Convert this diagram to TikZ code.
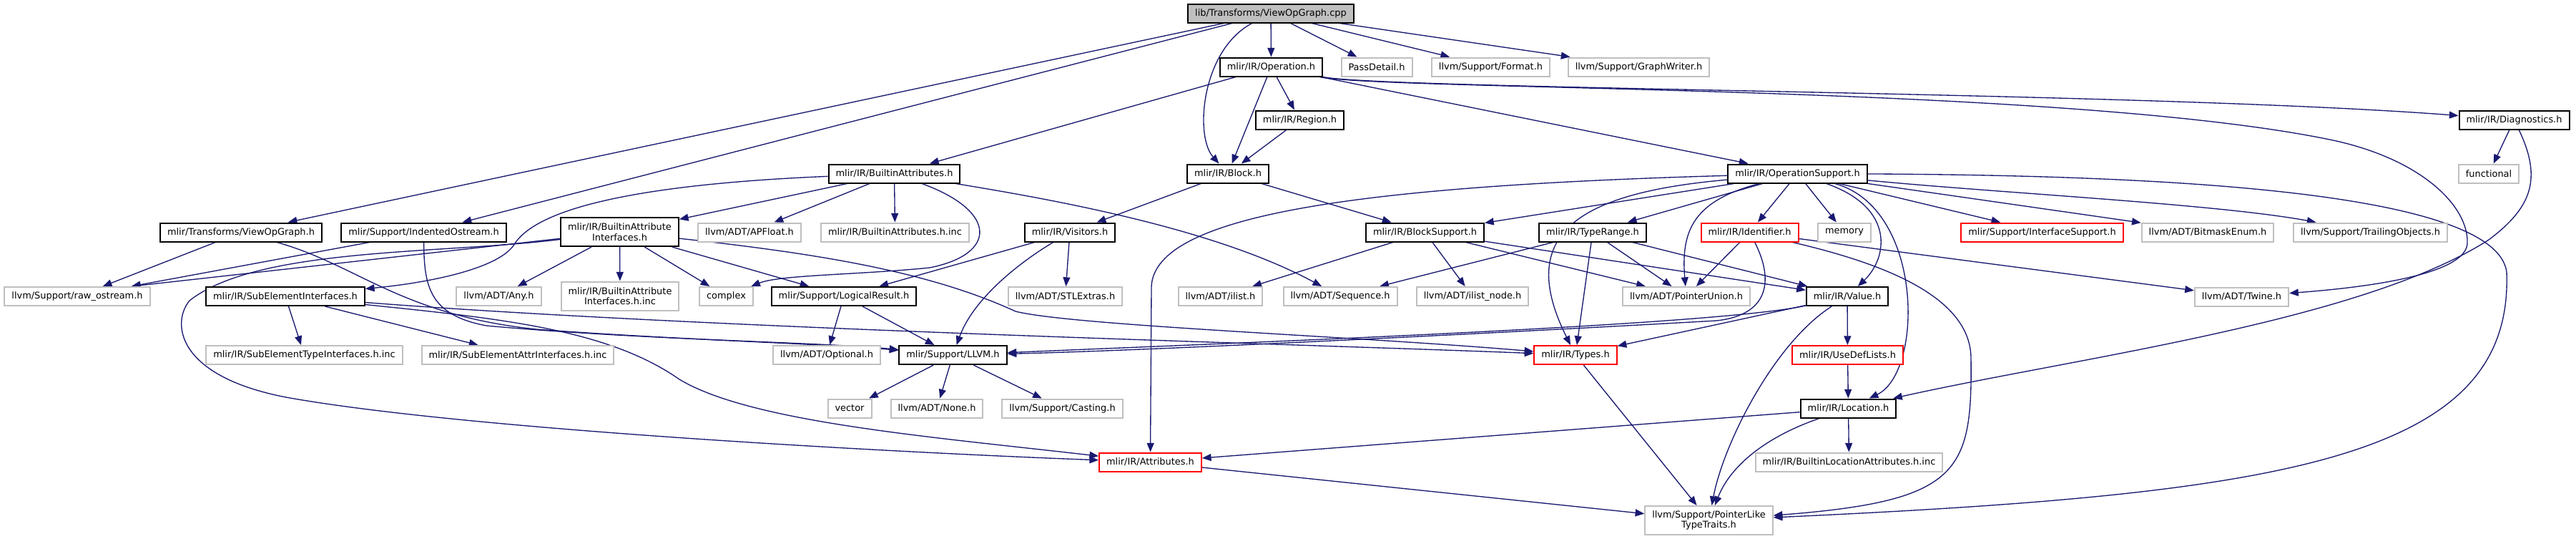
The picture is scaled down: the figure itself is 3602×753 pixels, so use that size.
\documentclass[tikz,border=0pt]{standalone}
\usepackage{fontspec}
\setmainfont{DejaVu Sans}
\usetikzlibrary{arrows.meta,calc,backgrounds}
\definecolor{edgeblue}{HTML}{191970}
\definecolor{extgray}{HTML}{BFBFBF}

\begin{document}
\begin{tikzpicture}[
  x=0.75pt, y=-0.75pt,
  font=\fontsize{9.7}{10.8}\selectfont,
  file/.style={rectangle, draw=black, line width=1.5pt, fill=white, inner xsep=7.5pt, inner ysep=3pt, minimum height=19.5pt, align=center},
  sys/.style={file, draw=extgray},
  trunc/.style={file, draw=red},
  srcfile/.style={file, fill=extgray},
  arr/.style={-{Triangle[length=9.5pt,width=7.5pt]}, draw=edgeblue, line width=1pt}
]
\useasboundingbox (0,0) rectangle (3602,753);

\node[srcfile] (root) at (1777,18.5) {lib/Transforms/ViewOpGraph.cpp};

\node[file] (ops) at (1777.5,93.5) {mlir/IR/Operation.h};
\node[sys] (passdetail) at (1925,93.5) {PassDetail.h};
\node[sys] (format) at (2084.5,93.5) {llvm/Support/Format.h};
\node[sys] (graphwriter) at (2291.5,93.5) {llvm/Support/GraphWriter.h};

\node[file] (region) at (1817.5,167.5) {mlir/IR/Region.h};
\node[file] (diag) at (3515.5,167.5) {mlir/IR/Diagnostics.h};

\node[file] (battr) at (1250.5,242.5) {mlir/IR/BuiltinAttributes.h};
\node[file] (block) at (1717,242.5) {mlir/IR/Block.h};
\node[file] (opsupport) at (2513.5,242.5) {mlir/IR/OperationSupport.h};
\node[sys] (functional) at (3480,242.5) {functional};

\node[file] (viewh) at (337,324.5) {mlir/Transforms/ViewOpGraph.h};
\node[file] (indent) at (592.5,324.5) {mlir/Support/IndentedOstream.h};
\node[file, minimum height=30pt] (bai) at (866.5,324) {mlir/IR/BuiltinAttribute\\Interfaces.h};
\node[sys] (apfloat) at (1048,324.5) {llvm/ADT/APFloat.h};
\node[sys] (battrinc) at (1251.5,324.5) {mlir/IR/BuiltinAttributes.h.inc};
\node[file] (visitors) at (1496,324.5) {mlir/IR/Visitors.h};
\node[file] (blocksupport) at (1992.5,324.5) {mlir/IR/BlockSupport.h};
\node[file] (typerange) at (2227,324.5) {mlir/IR/TypeRange.h};
\node[trunc] (identifier) at (2446.5,324.5) {mlir/IR/Identifier.h};
\node[sys] (memory) at (2579,324.5) {memory};
\node[trunc] (ifacesupport) at (2855.5,324.5) {mlir/Support/InterfaceSupport.h};
\node[sys] (bitmask) at (3087,324.5) {llvm/ADT/BitmaskEnum.h};
\node[sys] (trailing) at (3314.5,324.5) {llvm/Support/TrailingObjects.h};

\node[sys] (rawostream) at (108,414) {llvm/Support/raw\_ostream.h};
\node[file] (sei) at (399,414) {mlir/IR/SubElementInterfaces.h};
\node[sys] (any) at (697.5,414) {llvm/ADT/Any.h};
\node[sys, minimum height=30pt] (baiinc) at (867,413.5) {mlir/IR/BuiltinAttribute\\Interfaces.h.inc};
\node[sys] (complex) at (1015.5,414) {complex};
\node[file] (logres) at (1180,414) {mlir/Support/LogicalResult.h};
\node[sys] (stlextras) at (1489.5,414) {llvm/ADT/STLExtras.h};
\node[sys] (ilist) at (1706.5,414) {llvm/ADT/ilist.h};
\node[sys] (sequence) at (1874,414) {llvm/ADT/Sequence.h};
\node[sys] (ilistnode) at (2059,414) {llvm/ADT/ilist\_node.h};
\node[sys] (pointerunion) at (2358,414) {llvm/ADT/PointerUnion.h};
\node[file] (value) at (2583,414) {mlir/IR/Value.h};
\node[sys] (twine) at (3134.5,414.5) {llvm/ADT/Twine.h};

\node[sys] (setiinc) at (425.5,496) {mlir/IR/SubElementTypeInterfaces.h.inc};
\node[sys] (seaiinc) at (724,496) {mlir/IR/SubElementAttrInterfaces.h.inc};
\node[sys] (optional) at (1156,496) {llvm/ADT/Optional.h};
\node[file] (llvmh) at (1332.5,496) {mlir/Support/LLVM.h};
\node[trunc] (types) at (2203,496) {mlir/IR/Types.h};
\node[trunc] (usedef) at (2583.5,496) {mlir/IR/UseDefLists.h};

\node[sys] (vector) at (1188,570.5) {vector};
\node[sys] (none) at (1310,570.5) {llvm/ADT/None.h};
\node[sys] (casting) at (1485.5,570.5) {llvm/Support/Casting.h};
\node[file] (location) at (2584.5,570.5) {mlir/IR/Location.h};

\node[trunc] (attributes) at (1608.5,645.5) {mlir/IR/Attributes.h};
\node[sys] (blainc) at (2585.5,645.5) {mlir/IR/BuiltinLocationAttributes.h.inc};

\node[sys, minimum height=30pt] (ptrlike) at (2389.5,727) {llvm/Support/PointerLike\\TypeTraits.h};

\begin{scope}[on background layer]
\draw[arr] (root) -- (viewh);
\draw[arr] (root) -- (indent);
\draw[arr] (root) .. controls (1680,70) and (1670,190) .. (block);
\draw[arr] (root) -- (ops);
\draw[arr] (root) -- (passdetail);
\draw[arr] (root) -- (format);
\draw[arr] (root) -- (graphwriter);

\draw[arr] (ops) -- (battr);
\draw[arr] (ops) -- (block);
\draw[arr] (ops) -- (region);
\draw[arr] (ops) -- (opsupport);
\draw[arr] (ops) .. controls (1940,125) and (3000,128) .. (diag);
\draw[arr] (ops) .. controls (1940,127) and (2900,118) .. (3267,197)
  .. controls (3390,225) and (3452,290) .. (3450,340)
  .. controls (3448,380) and (3330,400) .. (twine);

\draw[arr] (region) -- (block);

\draw[arr] (diag) -- (functional);
\draw[arr] (diag) .. controls (3555,250) and (3540,290) .. (3480,335)
  .. controls (3300,450) and (2900,500) .. (location);

\draw[arr] (battr) .. controls (950,255) and (760,280) .. (720,340)
  .. controls (700,375) and (600,395) .. (sei);
\draw[arr] (battr) -- (bai);
\draw[arr] (battr) -- (apfloat);
\draw[arr] (battr) -- (battrinc);
\draw[arr] (battr) .. controls (1395,295) and (1395,355) .. (1300,374)
  .. controls (1200,384) and (1090,384) .. (complex);
\draw[arr] (battr) .. controls (1480,280) and (1700,320) .. (sequence);

\draw[arr] (block) -- (visitors);
\draw[arr] (block) -- (blocksupport);

\draw[arr] (opsupport) -- (blocksupport);
\draw[arr] (opsupport) -- (typerange);
\draw[arr] (opsupport) -- (identifier);
\draw[arr] (opsupport) -- (memory);
\draw[arr] (opsupport) -- (ifacesupport);
\draw[arr] (opsupport) -- (bitmask);
\draw[arr] (opsupport) .. controls (2800,270) and (3100,285) .. (trailing);
\draw[arr] (opsupport) .. controls (3050,245) and (3490,270) .. (3505,380)
  .. controls (3515,640) and (3200,690) .. (ptrlike);
\draw[arr] (opsupport) .. controls (2650,290) and (2640,360) .. (value);
\draw[arr] (opsupport) .. controls (2690,290) and (2690,520) .. (location);
\draw[arr] (opsupport) .. controls (2200,270) and (2120,330) .. (types);
\draw[arr] (opsupport) .. controls (1900,260) and (1615,300) .. (1610,400) -- (attributes);
\draw[arr] (opsupport) .. controls (2370,280) and (2350,320) .. (pointerunion);

\draw[arr] (viewh) -- (rawostream);
\draw[arr] (viewh) .. controls (500,370) and (560,440) .. (750,460)
  .. controls (950,475) and (1150,480) .. (llvmh);
\draw[arr] (indent) -- (rawostream);
\draw[arr] (indent) .. controls (593,400) and (600,440) .. (680,455)
  .. controls (900,475) and (1150,478) .. (llvmh);

\draw[arr] (bai) -- ($(rawostream.north)+(76,0)$);
\draw[arr] (bai) -- (any);
\draw[arr] (bai) -- (baiinc);
\draw[arr] (bai) -- (complex);
\draw[arr] (bai) -- (logres);
\draw[arr] (bai) .. controls (1150,355) and (1300,380) .. (1420,435)
  .. controls (1500,455) and (1900,470) .. (types);
\draw[arr] (bai) .. controls (620,355) and (360,345) .. (265,420)
  .. controls (240,450) and (245,525) .. (400,555)
  .. controls (650,600) and (1250,632) .. (attributes);

\draw[arr] (visitors) -- (logres);
\draw[arr] (visitors) .. controls (1420,370) and (1360,420) .. (llvmh);
\draw[arr] (visitors) -- (stlextras);

\draw[arr] (blocksupport) -- (ilist);
\draw[arr] (blocksupport) -- (ilistnode);
\draw[arr] (blocksupport) -- (pointerunion);
\draw[arr] (blocksupport) -- (value);

\draw[arr] (typerange) -- (sequence);
\draw[arr] (typerange) -- (types);
\draw[arr] (typerange) -- (pointerunion);
\draw[arr] (typerange) -- (value);

\draw[arr] (identifier) -- (pointerunion);
\draw[arr] (identifier) .. controls (2480,390) and (2475,440) .. (2400,448)
  .. controls (2100,465) and (1600,490) .. (llvmh);
\draw[arr] (identifier) .. controls (2620,365) and (2755,410) .. (2756,500)
  .. controls (2758,660) and (2740,700) .. (ptrlike);
\draw[arr] (identifier) -- (twine);

\draw[arr] (sei) -- (setiinc);
\draw[arr] (sei) -- (seaiinc);
\draw[arr] (sei) .. controls (1000,460) and (1800,480) .. (types);
\draw[arr] (sei) .. controls (700,445) and (850,460) .. (950,530)
  .. controls (1050,590) and (1300,610) .. (attributes);

\draw[arr] (logres) -- (optional);
\draw[arr] (logres) -- (llvmh);

\draw[arr] (value) -- (usedef);
\draw[arr] (value) .. controls (2400,455) and (1700,480) .. (llvmh);
\draw[arr] (value) -- (types);
\draw[arr] (value) .. controls (2480,480) and (2410,620) .. (ptrlike);

\draw[arr] (llvmh) -- (vector);
\draw[arr] (llvmh) -- (none);
\draw[arr] (llvmh) -- (casting);

\draw[arr] (types) -- (ptrlike);
\draw[arr] (usedef) -- (location);

\draw[arr] (location) -- (blainc);
\draw[arr] (location) -- (attributes);
\draw[arr] (location) .. controls (2470,610) and (2420,650) .. (ptrlike);

\draw[arr] (attributes) -- (ptrlike);
\end{scope}
\end{tikzpicture}
\end{document}
